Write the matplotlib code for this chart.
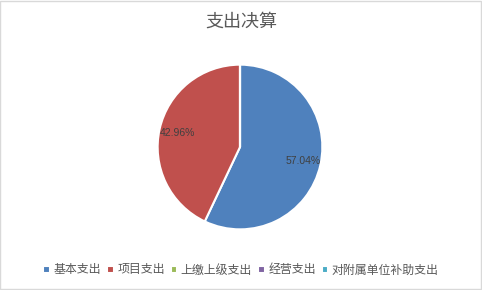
import matplotlib
matplotlib.use('Agg')
import matplotlib.pyplot as plt
from matplotlib.patches import Rectangle

plt.rcParams['font.family'] = ['Noto Sans CJK SC', 'DejaVu Sans']

title = '支出决算'
categories = ['基本支出', '项目支出', '上缴上级支出', '经营支出', '对附属单位补助支出']
values = [57.04, 42.96, 0, 0, 0]
colors = ['#4f81bd', '#c0504d', '#9bbb59', '#8064a2', '#4bacc6']

fig = plt.figure(figsize=(4.82, 2.90), dpi=100)
fig.patches.append(Rectangle((0.001, 0.002), 0.997, 0.995, transform=fig.transFigure,
                             fill=False, edgecolor='#d9d9d9', linewidth=1))

ax = fig.add_axes([156 / 482, 59 / 290, 168 / 482, 168 / 290])


def fmt(p):
    return f'{p:.2f}%' if p > 0 else ''


wedges, texts, autotexts = ax.pie(values, colors=colors, startangle=90, counterclock=False,
                                  autopct=fmt, pctdistance=0.78, radius=1,
                                  wedgeprops=dict(edgecolor='white', linewidth=1.5),
                                  textprops=dict(fontsize=7.5, color='#404040'))
for t in autotexts:
    t.set_family(['Liberation Sans', 'DejaVu Sans'])
ax.set_xlim(-1.02, 1.02)
ax.set_ylim(-1.02, 1.02)
ax.set_aspect('equal')
ax.axis('off')

fig.text(0.5, 1 - 22 / 290, title, ha='center', va='center', fontsize=13, color='#595959',
         fontweight='light')

fig.legend(wedges, categories, loc='center', bbox_to_anchor=(0.5, 1 - 270 / 290), ncol=5,
           frameon=False, fontsize=8.6, labelcolor='#595959', handlelength=0.55, handleheight=0.55,
           handletextpad=0.3, columnspacing=0.5, borderpad=0)

fig.savefig('out.png', dpi=100)
